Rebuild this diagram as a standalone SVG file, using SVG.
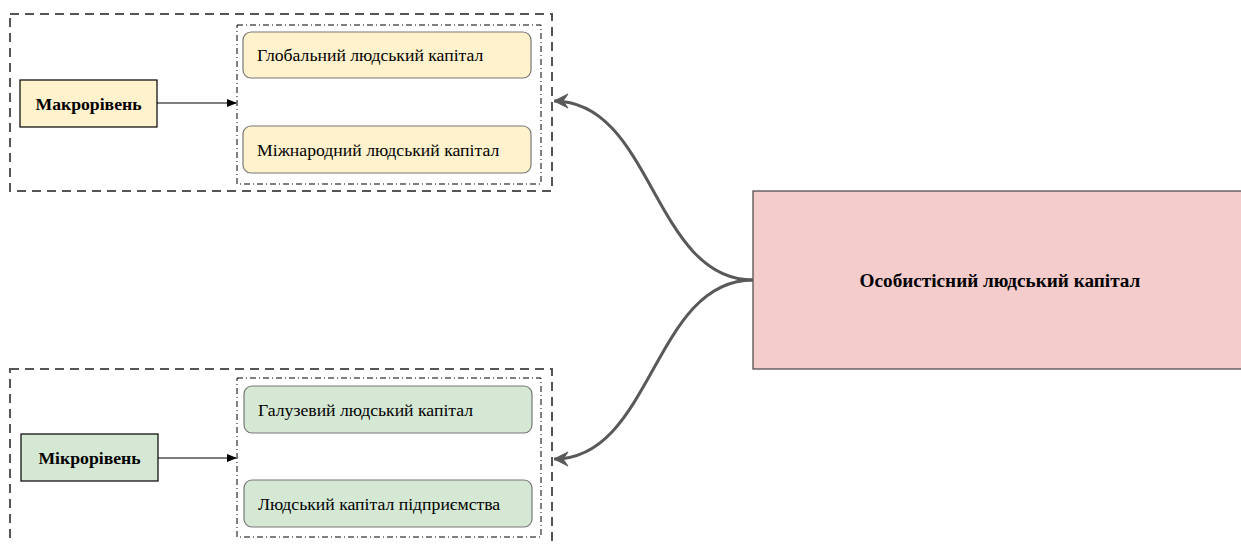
<svg xmlns="http://www.w3.org/2000/svg" width="1241" height="544" viewBox="0 0 1241 544">
<defs>
<style>
.outer{fill:none;stroke:#555;stroke-width:2;stroke-dasharray:9 6}
.inner{fill:none;stroke:#000;stroke-width:1;stroke-dasharray:6 3 1 3}
.item{stroke:#777;stroke-width:1.2}
.y{fill:#fff2cc}
.g{fill:#d5e8d4}
.lvl{stroke:#000;stroke-width:1.2}
.t{font-family:"Liberation Serif","Times New Roman",serif;font-size:17.7px;fill:#000}
.b{font-weight:bold}
.big{font-size:19.2px}
.arr{fill:none;stroke:#000;stroke-width:1.2}
.curve{fill:none;stroke:#595959;stroke-width:3}
</style>
<marker id="blk" markerWidth="10" markerHeight="10" refX="9" refY="5" orient="auto" markerUnits="userSpaceOnUse">
<path d="M0,1 L10,5 L0,9 Z" fill="#000"/>
</marker>
<marker id="open" markerWidth="20" markerHeight="20" refX="15" refY="8" orient="auto" markerUnits="userSpaceOnUse">
<path d="M1,1 L15,8 L1,15 L6,8 Z" fill="#595959" stroke="#595959" stroke-width="1" stroke-linejoin="round"/>
</marker>
</defs>
<g id="macro-group">
<rect class="outer" x="10" y="14" width="542" height="177"/>
<rect class="inner" x="237" y="25" width="304" height="159"/>
</g>
<g id="micro-group">
<rect class="outer" x="10" y="369" width="542" height="180"/>
<rect class="inner" x="237" y="378" width="304" height="159"/>
</g>
<g id="global">
<rect class="item y" x="243" y="32" width="288" height="46" rx="8"/>
<text class="t" x="257" y="61">Глобальний людський капітал</text>
</g>
<g id="international">
<rect class="item y" x="243" y="126" width="288" height="47" rx="8"/>
<text class="t" x="257" y="156">Міжнародний людський капітал</text>
</g>
<g id="macro">
<rect class="lvl y" x="20" y="80" width="137" height="47"/>
<text class="t b" x="88.5" y="110" text-anchor="middle">Макрорівень</text>
</g>
<g id="branch">
<rect class="item g" x="244" y="386" width="288" height="47" rx="8"/>
<text class="t" x="258" y="416">Галузевий людський капітал</text>
</g>
<g id="enterprise">
<rect class="item g" x="244" y="480" width="288" height="47" rx="8"/>
<text class="t" x="258" y="510">Людський капітал підприємства</text>
</g>
<g id="micro">
<rect class="lvl g" x="21" y="434" width="137" height="47"/>
<text class="t b" x="89.5" y="464" text-anchor="middle">Мікрорівень</text>
</g>
<g id="personal">
<rect x="753" y="191" width="492" height="178" fill="#f4cccc" stroke="#444" stroke-width="1.2"/>
<text class="t b big" x="1000" y="287" text-anchor="middle">Особистісний людський капітал</text>
</g>
<g id="connectors">
<path class="arr" d="M157,103 L236,103" marker-end="url(#blk)"/>
<path class="arr" d="M158,458 L236,458" marker-end="url(#blk)"/>
<path class="curve" d="M753,280 C653,280 653,101 554,101" marker-end="url(#open)"/>
<path class="curve" d="M753,280 C653,280 653,459 554,459" marker-end="url(#open)"/>
</g>
</svg>
